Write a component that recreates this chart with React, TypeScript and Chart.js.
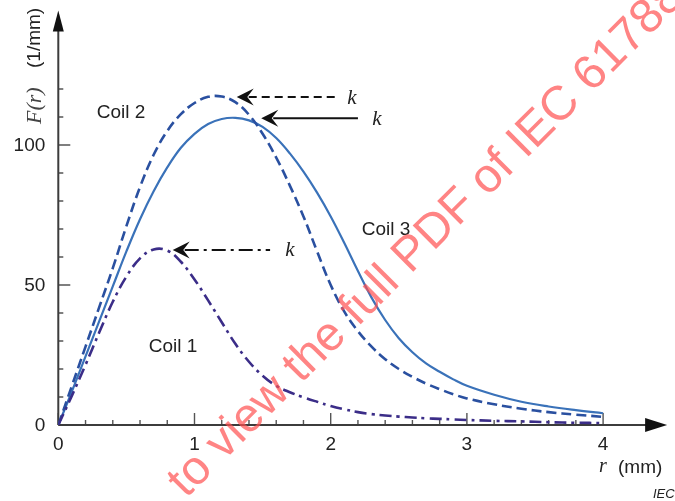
import { useEffect, useRef } from "react";
import { Chart, registerables } from "chart.js";

Chart.register(...registerables);

// Radial position r (mm)
const radius = [
  0, 0.1, 0.2, 0.3, 0.4, 0.5, 0.6, 0.7, 0.8, 0.9, 1.0, 1.1, 1.2, 1.3, 1.4, 1.5, 1.6, 1.7, 1.8, 1.9,
  2.0, 2.1, 2.2, 2.3, 2.4, 2.5, 2.6, 2.7, 2.8, 2.9, 3.0, 3.2, 3.4, 3.6, 3.8, 4.0,
];

// F(r) (1/mm) for each coil
const coil1 = [
  0, 10.5, 21.5, 33, 44, 53, 59.5, 62.7, 62.3, 58.3, 52, 44.5, 36.7, 29, 22.6, 17.6, 14, 11.7, 9.9, 8.3,
  6.8, 5.6, 4.6, 3.9, 3.4, 3.0, 2.7, 2.4, 2.2, 2.0, 1.8, 1.5, 1.3, 1.0, 0.8, 0.7,
];
const coil2 = [
  0, 14, 28, 42, 56, 71, 85, 96.5, 105, 111, 115, 117.2, 117.3, 115.3, 110.8, 104, 95.5, 85.5, 74.5, 62,
  50, 40.5, 33.5, 28, 23.5, 20, 17.2, 14.8, 12.8, 11, 9.5, 7.4, 5.8, 4.6, 3.7, 2.9,
];
const coil3 = [
  0, 12, 24.5, 37, 49.5, 62, 73.5, 83.5, 92, 99, 104, 107.5, 109.3, 109.7, 108.8, 106.5, 102.5, 97, 90.5, 83,
  74.5, 65, 55, 45.5, 37.5, 31, 26, 22, 19, 16.3, 14, 10.8, 8.3, 6.6, 5.3, 4.2,
];

const coilNames = ["Coil 1", "Coil 2", "Coil 3"];
// label anchor (r, F) for each coil name
const coilLabelR = [0.842, 0.46, 2.406];
const coilLabelF = [27.9, 111.5, 69.8];

// "k" pointer arrows: tip and tail positions along r, drawn at each curve's peak level
const kTipR = [0.84, 1.31, 1.49];
const kTailR = [1.555, 2.05, 2.2];
const kTextR = [1.70, 2.155, 2.34];

const xMajorTicks = [0, 1, 2, 3, 4];
const xMinorTicks = [0.2, 0.4, 0.6, 0.8, 1.2, 1.4, 1.6, 1.8, 2.2, 2.4, 2.6, 2.8, 3.2, 3.4, 3.6, 3.8];
const yMajorTicks = [0, 50, 100];
const yMinorTicks = [10, 20, 30, 40, 60, 70, 80, 90, 110, 120];

const X_MAX = 4.47;
const Y_MAX = 148;

const COIL1_COLOR = "#3b2d88";
const COIL2_COLOR = "#2a50a0";
const COIL3_COLOR = "#3a72b9";
const AXIS_COLOR = "#3c3c3c";
const TEXT_COLOR = "#222222";

const SANS = '"Liberation Sans", Arial, sans-serif';
const SERIF = '"Liberation Serif", "Times New Roman", serif';

function toPoints(values: number[]) {
  return radius.map((r, i) => ({ x: r, y: values[i] }));
}

function drawStealthHead(ctx: CanvasRenderingContext2D, tx: number, ty: number) {
  const L = 17;
  const W = 8.5;
  ctx.save();
  ctx.setLineDash([]);
  ctx.fillStyle = "#111";
  ctx.beginPath();
  ctx.moveTo(tx, ty);
  ctx.lineTo(tx + L, ty - W);
  ctx.lineTo(tx + L * 0.62, ty);
  ctx.lineTo(tx + L, ty + W);
  ctx.closePath();
  ctx.fill();
  ctx.restore();
}

const decorPlugin = {
  id: "decor",
  beforeDatasetsDraw(chart: any) {
    const ctx: CanvasRenderingContext2D = chart.ctx;
    const xs = chart.scales.x;
    const ys = chart.scales.y;
    const x0 = xs.getPixelForValue(0);
    const y0 = ys.getPixelForValue(0);
    const xEnd = xs.getPixelForValue(X_MAX);
    const yEnd = ys.getPixelForValue(Y_MAX);

    ctx.save();
    // tick marks (pointing into the plot)
    ctx.strokeStyle = "#555";
    ctx.lineWidth = 1.4;
    ctx.beginPath();
    for (const v of xMajorTicks) {
      const px = xs.getPixelForValue(v);
      ctx.moveTo(px, y0);
      ctx.lineTo(px, y0 - 12);
    }
    for (const v of xMinorTicks) {
      const px = xs.getPixelForValue(v);
      ctx.moveTo(px, y0);
      ctx.lineTo(px, y0 - 5);
    }
    for (const v of yMajorTicks) {
      const py = ys.getPixelForValue(v);
      ctx.moveTo(x0, py);
      ctx.lineTo(x0 + 12, py);
    }
    for (const v of yMinorTicks) {
      const py = ys.getPixelForValue(v);
      ctx.moveTo(x0, py);
      ctx.lineTo(x0 + 5, py);
    }
    ctx.stroke();

    // axis lines
    ctx.strokeStyle = AXIS_COLOR;
    ctx.lineWidth = 2;
    ctx.beginPath();
    ctx.moveTo(x0, y0);
    ctx.lineTo(xEnd - 12, y0);
    ctx.moveTo(x0, y0);
    ctx.lineTo(x0, yEnd + 12);
    ctx.stroke();

    // axis arrowheads
    ctx.fillStyle = "#111";
    ctx.beginPath();
    ctx.moveTo(xEnd, y0);
    ctx.lineTo(xEnd - 22, y0 - 7);
    ctx.lineTo(xEnd - 22, y0 + 7);
    ctx.closePath();
    ctx.fill();
    ctx.beginPath();
    ctx.moveTo(x0, yEnd);
    ctx.lineTo(x0 - 5.5, yEnd + 21);
    ctx.lineTo(x0 + 5.5, yEnd + 21);
    ctx.closePath();
    ctx.fill();

    // tick labels
    ctx.fillStyle = TEXT_COLOR;
    ctx.font = `19px ${SANS}`;
    ctx.textAlign = "center";
    ctx.textBaseline = "middle";
    xMajorTicks.forEach((v) => {
      ctx.fillText(String(v), xs.getPixelForValue(v), y0 + 20);
    });
    ctx.textAlign = "right";
    yMajorTicks.forEach((v) => {
      ctx.fillText(String(v), x0 - 13, ys.getPixelForValue(v) + 1);
    });

    // x-axis title
    ctx.textAlign = "center";
    ctx.font = `italic 20px ${SERIF}`;
    ctx.fillText("r", 603, y0 + 42);
    ctx.textAlign = "left";
    ctx.font = `19px ${SANS}`;
    ctx.fillText("(mm)", 618, y0 + 43);

    // y-axis title
    ctx.save();
    ctx.translate(35, 124);
    ctx.rotate(-Math.PI / 2);
    ctx.textAlign = "left";
    ctx.textBaseline = "middle";
    ctx.fillStyle = "#444";
    ctx.font = `italic 22px ${SERIF}`;
    ctx.fillText("F(r)", 0, 0);
    ctx.fillStyle = TEXT_COLOR;
    ctx.font = `19px ${SANS}`;
    ctx.fillText("(1/mm)", 56, 0);
    ctx.restore();

    // small caption at the bottom right
    ctx.font = `italic 13px ${SANS}`;
    ctx.textAlign = "left";
    ctx.fillText("IEC", 653, 494);
    ctx.restore();
  },
  afterDatasetsDraw(chart: any) {
    const ctx: CanvasRenderingContext2D = chart.ctx;
    const xs = chart.scales.x;
    const ys = chart.scales.y;
    const series = [coil1, coil2, coil3];
    const dashes = [[14, 5, 3, 5], [8, 5], []];

    ctx.save();
    // coil labels
    ctx.fillStyle = TEXT_COLOR;
    ctx.font = `19px ${SANS}`;
    ctx.textAlign = "center";
    ctx.textBaseline = "middle";
    coilNames.forEach((name, i) => {
      ctx.fillText(name, xs.getPixelForValue(coilLabelR[i]), ys.getPixelForValue(coilLabelF[i]));
    });

    // k arrows at each peak level
    series.forEach((vals, i) => {
      const peak = Math.max(...vals);
      const py = ys.getPixelForValue(peak) + 0.5;
      const tip = xs.getPixelForValue(kTipR[i]);
      const tail = xs.getPixelForValue(kTailR[i]);
      ctx.strokeStyle = "#111";
      ctx.lineWidth = 2;
      ctx.setLineDash(dashes[i]);
      ctx.beginPath();
      ctx.moveTo(tip + 12, py);
      ctx.lineTo(tail, py);
      ctx.stroke();
      ctx.setLineDash([]);
      drawStealthHead(ctx, tip, py);
      ctx.fillStyle = TEXT_COLOR;
      ctx.font = `italic 21px ${SERIF}`;
      ctx.textAlign = "center";
      ctx.fillText("k", xs.getPixelForValue(kTextR[i]), py + 1);
    });
    ctx.restore();

    // red diagonal watermark
    ctx.save();
    ctx.translate(186, 499);
    ctx.rotate(-Math.PI / 4);
    ctx.font = `48px ${SANS}`;
    ctx.fillStyle = "rgba(255, 80, 80, 0.7)";
    ctx.textBaseline = "alphabetic";
    ctx.textAlign = "left";
    ctx.fillText("to view the full PDF of IEC 61788", 0, 0);
    ctx.restore();
  },
};

export default function App() {
  const canvasRef = useRef<HTMLCanvasElement | null>(null);

  useEffect(() => {
    const canvas = canvasRef.current;
    if (!canvas) return;
    const chart = new Chart(canvas, {
      type: "scatter",
      data: {
        datasets: [
          {
            label: coilNames[0],
            data: toPoints(coil1),
            showLine: true,
            borderColor: COIL1_COLOR,
            borderWidth: 2.6,
            borderDash: [12, 5, 3, 5],
            pointRadius: 0,
            tension: 0.4,
          },
          {
            label: coilNames[1],
            data: toPoints(coil2),
            showLine: true,
            borderColor: COIL2_COLOR,
            borderWidth: 2.6,
            borderDash: [10, 5],
            pointRadius: 0,
            tension: 0.4,
          },
          {
            label: coilNames[2],
            data: toPoints(coil3),
            showLine: true,
            borderColor: COIL3_COLOR,
            borderWidth: 2.2,
            pointRadius: 0,
            tension: 0.4,
          },
        ],
      },
      options: {
        responsive: false,
        animation: false,
        devicePixelRatio: 1,
        layout: { padding: { left: 58.3, right: 675 - 58.3 - X_MAX * 136.2, top: 425 - Y_MAX * 2.8, bottom: 76 } },
        scales: {
          x: { type: "linear", min: 0, max: X_MAX, display: false },
          y: { type: "linear", min: 0, max: Y_MAX, display: false },
        },
        plugins: {
          legend: { display: false },
          tooltip: { enabled: false },
        },
      } as any,
      plugins: [decorPlugin],
    });
    return () => chart.destroy();
  }, []);

  return (
    <div style={{ position: "absolute", left: 0, top: 0, width: 675, height: 501, background: "#fff" }}>
      <canvas ref={canvasRef} width={675} height={501} style={{ display: "block" }} />
    </div>
  );
}
